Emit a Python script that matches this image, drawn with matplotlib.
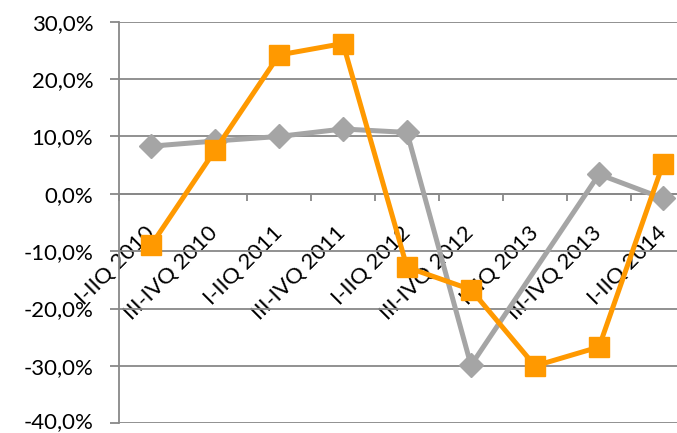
import matplotlib
matplotlib.use("Agg")
import matplotlib.pyplot as plt
from matplotlib.ticker import FuncFormatter, FixedLocator
from matplotlib.transforms import ScaledTranslation

plt.rcParams['font.family'] = ['Lato', 'DejaVu Sans']

periods = ['I-IIQ 2010', 'III-IVQ 2010', 'I-IIQ 2011', 'III-IVQ 2011', 'I-IIQ 2012',
           'III-IVQ 2012', 'I-IIQ 2013', 'III-IVQ 2013', 'I-IIQ 2014']
# no grey value for I-IIQ 2013, the line just joins its neighbours
grey_series = [8.3, 9.2, 10.0, 11.3, 10.7, -29.9, None, 3.4, -0.8]
orange_series = [-9.0, 7.6, 24.2, 26.2, -12.8, -16.7, -30.0, -26.7, 5.2]
y_ticks = [-40, -30, -20, -10, 0, 10, 20, 30]

grid_col = '#888888'

fig = plt.figure(figsize=(6.77, 4.33), dpi=100)
# right edge runs a little past the canvas
ax = fig.add_axes([119 / 677, 1 - 423.3 / 433, 576 / 677, (423.3 - 21.7) / 433])

x = list(range(len(periods)))
gx = [i for i, v in zip(x, grey_series) if v is not None]
gy = [v for v in grey_series if v is not None]
ax.plot(gx, gy, color='#A5A5A5', lw=3.6, marker='D', ms=12, zorder=3)
ax.plot(x, orange_series, color='#FF9900', lw=3.6, marker='s', ms=14, zorder=4)

ax.set_xlim(-0.5, len(periods) - 0.5)
ax.set_ylim(-40, 30)
ax.set_yticks(y_ticks)
ax.yaxis.set_major_formatter(FuncFormatter(lambda v, p: f'{v:.1f}%'.replace('.', ',')))
ax.grid(axis='y', color=grid_col, lw=1.3)
ax.set_axisbelow(True)

for side in ['top', 'right']:
    ax.spines[side].set_visible(False)
ax.spines['left'].set_color(grid_col)
ax.spines['left'].set_linewidth(1.3)
ax.spines['bottom'].set_position(('data', 0))
ax.spines['bottom'].set_color(grid_col)
ax.spines['bottom'].set_linewidth(1.3)

ax.tick_params(axis='y', length=6.5, width=1.3, color=grid_col, pad=12, labelsize=16)
# nudge the lowest label up so it stays inside the canvas
low = ax.get_yticklabels()[0]
low.set_transform(low.get_transform() + ScaledTranslation(0, 3 / 100, fig.dpi_scale_trans))

ax.set_xticks(x)
ax.set_xticklabels(periods)
ax.xaxis.set_minor_locator(FixedLocator([i - 0.5 for i in range(len(periods) + 1)]))
ax.tick_params(axis='x', which='minor', length=5, width=1.3, color=grid_col, direction='out')
ax.tick_params(axis='x', which='major', length=0, pad=26, labelsize=16)
for lbl in ax.get_xticklabels():
    lbl.set_rotation(45)
    lbl.set_ha('right')
    lbl.set_va('center')
    lbl.set_rotation_mode('anchor')
    lbl.set_zorder(10)

fig.savefig('out.png', dpi=100)
